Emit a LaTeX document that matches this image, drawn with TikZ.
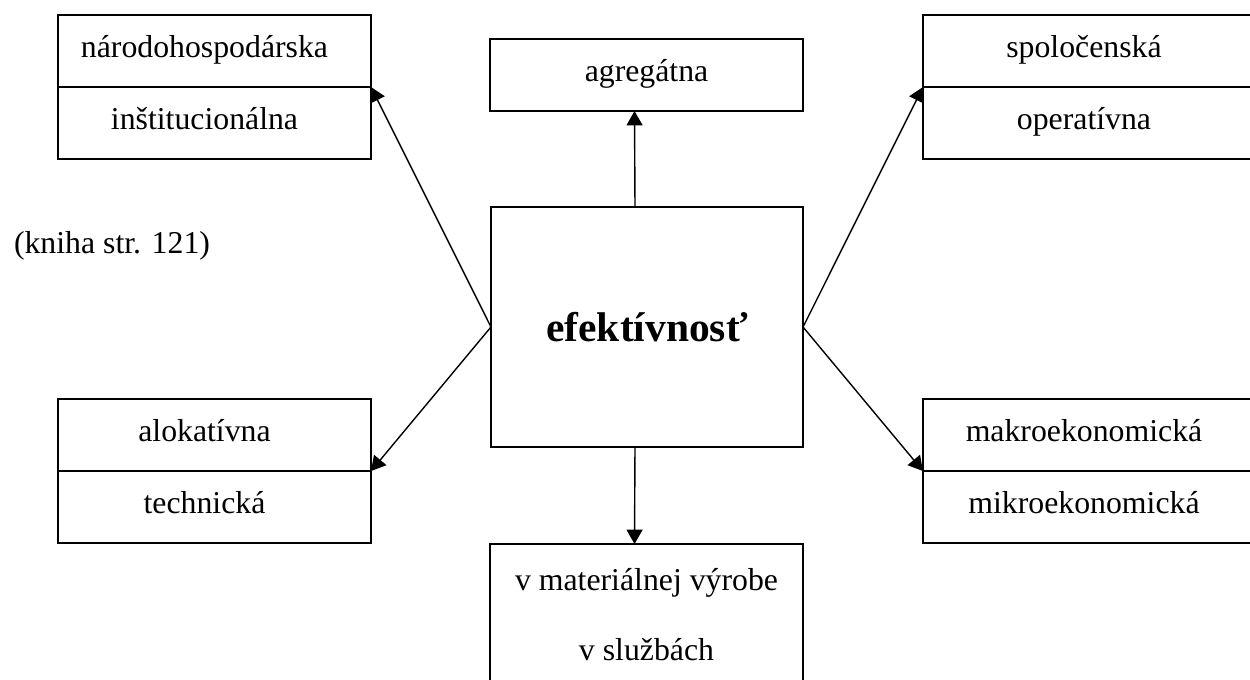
\documentclass[tikz,border=0pt]{standalone}
\usepackage{fontspec}
\setmainfont{Liberation Serif}
\usetikzlibrary{arrows.meta,positioning}

\begin{document}
\begin{tikzpicture}[x=0.025cm, y=-0.025cm,
  half/.style={draw, line width=1.1pt, outer sep=0pt, inner sep=0pt,
    minimum width=7.825cm, minimum height=1.8cm,
    text height=0.55cm, text depth=0.25cm,
    font=\fontsize{22.6}{27}\selectfont},
  side/.style={half, execute at begin node={\hspace*{-0.5cm}}},
  wide/.style={side, minimum width=8.55cm},
  arr/.style={-{Triangle[length=0.36cm,width=0.4cm]}, line width=1pt}]

\useasboundingbox (0,0) rectangle (1250,679);
\clip (0,0) rectangle (1250,679);

% left column
\node[side] (nh) at (214.5,51) {národohospodárska};
\node[side, below=0pt of nh] (in) {inštitucionálna};
\node[side] (al) at (214.5,435) {alokatívna};
\node[side, below=0pt of al] (te) {technická};

% right column, cut off by the page edge
\node[wide] (sp) at (1094,51) {spoločenská};
\node[wide, below=0pt of sp] (op) {operatívna};
\node[wide] (ma) at (1094,435) {makroekonomická};
\node[wide, below=0pt of ma] (mi) {mikroekonomická};

% middle column
\node[half] (ag) at (646.5,75) {agregátna};
\node[half, minimum width=7.8cm, minimum height=6cm,
  text height={}, text depth={},
  font=\bfseries\fontsize{29.5}{35}\selectfont] (ef) at (647,327) {efektívnosť};
\node[half, minimum height=3.55cm, anchor=north, align=center,
  text height={}, text depth={},
  font=\fontsize{22.6}{49.8}\selectfont] (vm) at (646.5,544) {v materiálnej výrobe\\v službách};

\node[font=\fontsize{22.6}{27}\selectfont] (kn) at (112,246) {(kniha str. 121)};

\draw[arr] (ef.west) -- (nh.south east);
\draw[arr] (ef.west) -- (al.south east);
\draw[arr] (ef.east) -- (sp.south west);
\draw[arr] (ef.east) -- (ma.south west);
\draw[arr] ([xshift=-0.3cm]ef.north) -- ([xshift=-0.3cm]ag.south);
\draw[arr] ([xshift=-0.3cm]ef.south) -- ([xshift=-0.3cm]vm.north);

\end{tikzpicture}
\end{document}
